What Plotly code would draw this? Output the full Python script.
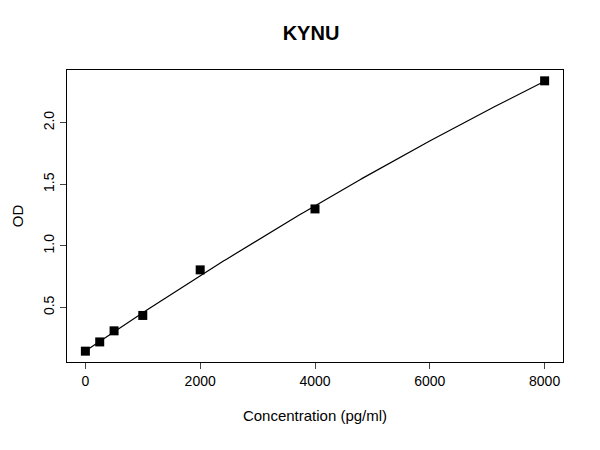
import numpy as np
import plotly.graph_objects as go

conc = [0, 250, 500, 1000, 2000, 4000, 8000]
od = [0.145, 0.22, 0.31, 0.435, 0.805, 1.30, 2.34]

coef = np.polyfit(conc, od, 2)
xs = np.linspace(0, 8000, 200)
ys = np.polyval(coef, xs)

fig = go.Figure()
fig.add_trace(go.Scatter(x=xs, y=ys, mode="lines", line=dict(color="black", width=1.2), hoverinfo="skip"))
fig.add_trace(go.Scatter(x=conc, y=od, mode="markers", marker=dict(symbol="square", size=9, color="black")))

ax = dict(showline=True, mirror=True, linecolor="black", linewidth=1, ticks="outside", ticklen=6,
          showgrid=False, zeroline=False, automargin=False, tickfont=dict(size=14, color="black"))
fig.update_layout(
    width=600, height=450, plot_bgcolor="white", paper_bgcolor="white", showlegend=False,
    font=dict(family="Liberation Sans, Arial", color="black"),
    margin=dict(l=59, r=45, t=62, b=96),
    title=dict(text="<b>KYNU</b>", x=0.505, xanchor="center", y=0.945, yanchor="middle", font=dict(size=20)),
    xaxis=dict(ax, range=[-320, 8320], tickvals=[0, 2000, 4000, 6000, 8000],
               title=dict(text="Concentration (pg/ml)", font=dict(size=15), standoff=22)),
    yaxis=dict(ax, range=[0.057, 2.428], tickvals=[0.5, 1.0, 1.5, 2.0], ticktext=["0.5", "1.0", "1.5", "2.0"],
               tickangle=-90, title=dict(text="OD", font=dict(size=15), standoff=14)),
)
fig.write_html("out.html")
